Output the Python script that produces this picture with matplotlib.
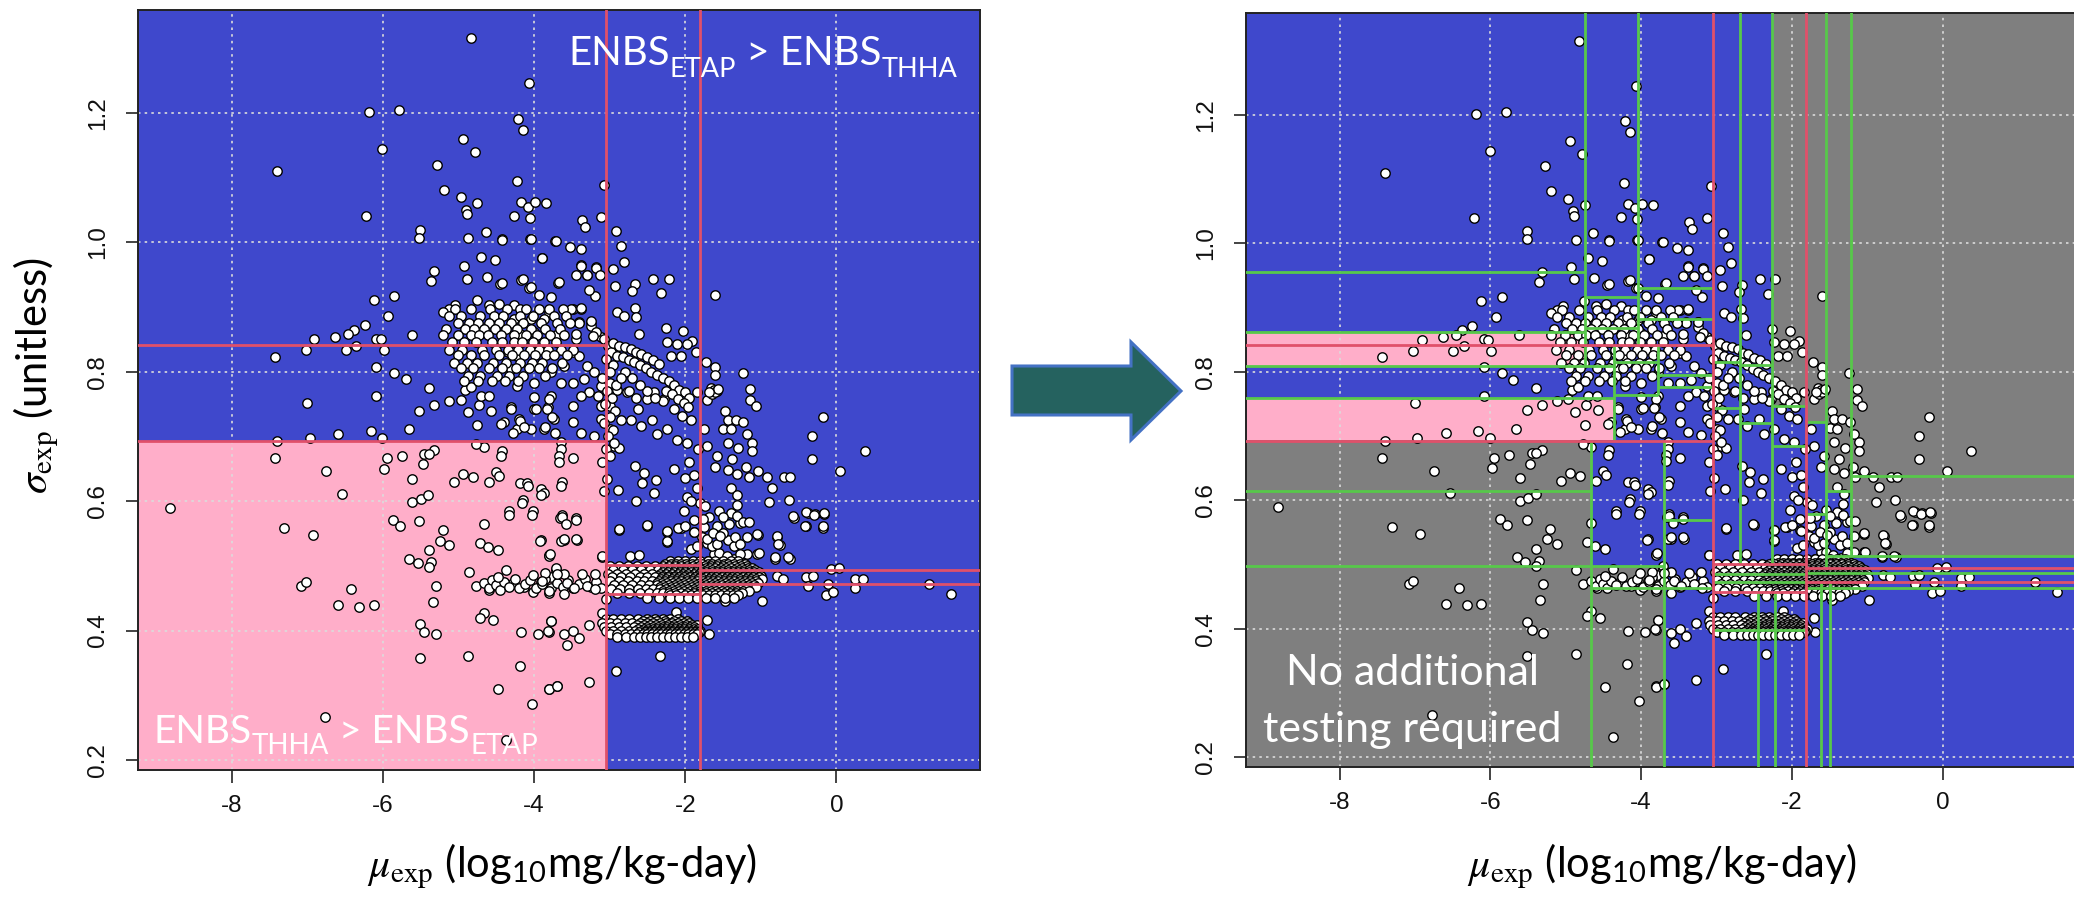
import matplotlib
matplotlib.use('Agg')
import matplotlib.pyplot as plt
from matplotlib.patches import Rectangle, Polygon
import numpy as np

plt.rcParams['mathtext.fontset'] = 'stix'

# ---------------- data ----------------
x_ticks = [-8, -6, -4, -2, 0]
x_tick_labels = ['-8', '-6', '-4', '-2', '0']
y_ticks = [0.2, 0.4, 0.6, 0.8, 1.0, 1.2]
y_tick_labels = ['0.2', '0.4', '0.6', '0.8', '1.0', '1.2']

# scattered chemicals, upper part
upper_pts = [(-4.83, 1.315), (-4.07, 1.246), (-6.19, 1.202), (-5.79, 1.205), (-7.40, 1.11), (-6.01, 1.144),
             (-4.21, 1.19), (-4.15, 1.173), (-4.94, 1.159), (-4.78, 1.139), (-5.28, 1.12), (-5.19, 1.081),
             (-4.97, 1.07), (-4.75, 1.06), (-4.90, 1.05), (-4.89, 1.043), (-4.23, 1.094), (-4.17, 1.062),
             (-4.08, 1.055), (-3.99, 1.062), (-3.84, 1.06), (-4.27, 1.041), (-4.05, 1.038), (-6.22, 1.04),
             (-5.51, 1.019), (-5.52, 1.007), (-4.87, 1.006), (-4.64, 1.016), (-4.43, 1.005), (-4.05, 1.005),
             (-3.72, 1.002), (-4.70, 0.978), (-4.52, 0.973), (-3.90, 0.976), (-5.32, 0.956), (-5.36, 0.94),
             (-4.93, 0.963), (-4.89, 0.944), (-4.62, 0.946), (-4.45, 0.935), (-4.17, 0.942), (-4.07, 0.93),
             (-3.68, 0.937), (-6.12, 0.911), (-5.85, 0.917), (-5.93, 0.886), (-4.76, 0.911), (-4.60, 0.903),
             (-4.46, 0.905), (-4.27, 0.903), (-5.04, 0.903), (-5.12, 0.897), (-5.20, 0.892), (-6.24, 0.872),
             (-6.38, 0.865), (-6.46, 0.858), (-6.63, 0.854), (-6.91, 0.85), (-7.02, 0.833), (-7.43, 0.823),
             (-6.49, 0.833), (-6.35, 0.84), (-6.09, 0.851), (-6.03, 0.85), (-5.99, 0.833), (-5.62, 0.857),
             (-6.09, 0.807), (-5.85, 0.798), (-5.70, 0.788), (-5.39, 0.775)]

# dense upper cluster, rows of (sigma, [mu ...])
upper_rows = [
    (0.897, [-5.05, -4.83, -4.58, -4.36, -4.1, -3.93, -3.8, -3.62]),
    (0.886, [-5.12, -4.96, -4.71, -4.53, -4.41, -4.19, -4.02, -3.74, -3.58]),
    (0.876, [-5.0, -4.86, -4.74, -4.6, -4.47, -4.31, -4.14, -3.91, -3.7, -3.53]),
    (0.866, [-5.16, -4.91, -4.79, -4.66, -4.52, -4.37, -4.23, -4.04, -3.86, -3.66]),
    (0.857, [-5.2, -5.01, -4.84, -4.73, -4.61, -4.44, -4.27, -4.11, -3.96, -3.79, -3.61]),
    (0.846, [-5.08, -4.93, -4.77, -4.56, -4.42, -4.26, -4.16, -4.01, -3.87, -3.71]),
    (0.834, [-5.13, -4.95, -4.69, -4.51, -4.34, -4.21, -4.06, -3.93, -3.81, -3.64, -3.49]),
    (0.826, [-5.0, -4.84, -4.66, -4.46, -4.29, -4.13, -3.99, -3.84, -3.73, -3.56]),
    (0.814, [-5.06, -4.89, -4.76, -4.54, -4.37, -4.19, -4.03, -3.89, -3.63]),
    (0.806, [-4.96, -4.81, -4.59, -4.43, -4.24, -4.07, -3.94, -3.76]),
    (0.794, [-4.87, -4.71, -4.49, -4.33, -4.14, -3.86]),
    (0.786, [-4.93, -4.74, -4.56, -4.39, -4.21]),
]

mid_pts = [(-4.42, 1.004), (-4.04, 1.005), (-3.71, 1.002), (-3.53, 0.993), (-3.38, 0.99), (-3.89, 0.976),
           (-3.38, 0.965), (-3.18, 0.962), (-3.45, 0.949), (-3.30, 0.949), (-3.67, 0.938), (-4.15, 0.943),
           (-4.04, 0.931), (-4.42, 0.937), (-3.93, 0.918), (-3.78, 0.915), (-3.80, 0.892), (-3.49, 0.897),
           (-3.38, 0.897), (-3.41, 0.877), (-3.25, 0.877), (-3.12, 0.854), (-4.18, 0.897), (-4.26, 0.881),
           (-4.04, 0.881), (-3.87, 0.881), (-4.18, 0.858), (-4.00, 0.861), (-3.71, 0.856), (-3.45, 0.851),
           (-3.25, 0.87),
           (-4.35, 0.830), (-4.22, 0.825), (-4.31, 0.804), (-4.04, 0.809), (-3.78, 0.799), (-3.60, 0.809),
           (-3.49, 0.830), (-3.41, 0.825), (-3.30, 0.809), (-3.21, 0.799), (-3.12, 0.778), (-4.22, 0.778),
           (-4.00, 0.783), (-3.65, 0.783), (-3.49, 0.783), (-3.34, 0.788), (-3.27, 0.768), (-3.16, 0.762),
           (-4.31, 0.745), (-4.00, 0.742), (-3.82, 0.745), (-3.78, 0.763), (-3.49, 0.747), (-3.38, 0.763),
           (-4.20, 0.727), (-4.04, 0.711), (-3.74, 0.727), (-3.49, 0.722), (-3.38, 0.706), (-3.21, 0.701),
           (-3.87, 0.711), (-3.12, 0.727), (-4.40, 0.722), (-3.12, 0.747), (-4.22, 0.711),
           (-7.00, 0.752), (-6.09, 0.762), (-7.40, 0.693), (-6.97, 0.697), (-6.59, 0.704), (-6.16, 0.708),
           (-6.01, 0.697), (-5.66, 0.711), (-5.52, 0.74), (-5.32, 0.749), (-5.12, 0.755), (-4.97, 0.757),
           (-4.92, 0.771), (-4.84, 0.776), (-4.88, 0.737), (-4.73, 0.748), (-4.57, 0.74), (-4.75, 0.717),
           (-4.70, 0.763), (-4.59, 0.763), (-4.44, 0.719), (-4.31, 0.742), (-4.19, 0.724), (-4.28, 0.706),
           (-4.13, 0.714), (-4.00, 0.761), (-3.98, 0.743), (-3.80, 0.758), (-3.83, 0.743), (-3.76, 0.73),
           (-3.85, 0.715), (-3.72, 0.705)]

# chemicals with mu above -3.6
right_pts = [(-3.07, 1.089), (-3.12, 1.039), (-3.36, 1.034), (-3.32, 1.023), (-2.92, 1.017), (-2.85, 0.995),
             (-2.81, 0.969), (-2.95, 0.959), (-3.18, 0.961), (-3.13, 0.949), (-3.38, 0.964), (-3.30, 0.949),
             (-3.19, 0.917), (-3.27, 0.927), (-3.38, 0.898), (-3.51, 0.897), (-3.25, 0.878), (-3.40, 0.876),
             (-3.18, 0.861), (-3.22, 0.855), (-3.44, 0.859), (-2.93, 0.933), (-2.66, 0.935), (-2.70, 0.925),
             (-2.42, 0.944), (-2.22, 0.944), (-2.32, 0.922), (-1.60, 0.918), (-2.90, 0.892), (-2.81, 0.886),
             (-2.67, 0.898), (-2.65, 0.884), (-2.26, 0.867), (-2.03, 0.863), (-2.61, 0.858), (-2.24, 0.846),
             (-2.11, 0.843), (-1.91, 0.848), (-1.97, 0.843), (-1.86, 0.831), (-2.19, 0.825), (-2.06, 0.825),
             (-1.72, 0.815), (-1.60, 0.808), (-1.60, 0.795), (-1.24, 0.798), (-1.14, 0.773), (-1.14, 0.756),
             (-1.07, 0.747), (-1.84, 0.768), (-1.71, 0.757), (-1.47, 0.739), (-1.44, 0.726), (-1.33, 0.726),
             (-1.23, 0.722), (-1.50, 0.712), (-1.40, 0.711), (-1.18, 0.703), (-1.11, 0.69), (-1.11, 0.677),
             (-0.18, 0.73), (-0.32, 0.70), (-0.32, 0.665), (0.38, 0.677), (0.05, 0.646), (-1.30, 0.682),
             (-1.44, 0.69), (-1.38, 0.665), (-1.61, 0.652), (-1.44, 0.648), (-1.31, 0.642), (-1.19, 0.652),
             (-1.16, 0.637), (-1.04, 0.646), (-0.92, 0.637), (-0.85, 0.62), (-0.69, 0.637), (-0.61, 0.637),
             (-1.40, 0.62), (-1.31, 0.61), (-1.32, 0.594), (-0.89, 0.598), (-0.63, 0.601), (-0.56, 0.574),
             (-0.40, 0.562), (-0.37, 0.581), (-0.28, 0.58), (-0.16, 0.58), (-0.18, 0.559), (-0.78, 0.545),
             (-0.75, 0.532), (-1.04, 0.548), (-0.81, 0.511), (-0.62, 0.511), (-1.05, 0.519),
             (-2.99, 0.783), (-2.90, 0.771), (-2.77, 0.768), (-2.63, 0.742), (-2.50, 0.758), (-2.41, 0.768),
             (-2.28, 0.758), (-2.15, 0.742), (-2.04, 0.732), (-1.93, 0.726), (-2.99, 0.747), (-2.85, 0.726),
             (-2.72, 0.726), (-2.59, 0.716), (-2.44, 0.726), (-2.37, 0.703), (-2.24, 0.711), (-2.11, 0.695),
             (-1.97, 0.69), (-2.99, 0.711), (-2.94, 0.685), (-2.88, 0.682), (-2.66, 0.654), (-2.55, 0.644),
             (-2.39, 0.633), (-2.15, 0.649), (-2.00, 0.636), (-2.57, 0.628), (-2.41, 0.612), (-2.89, 0.617),
             (-2.65, 0.60), (-2.88, 0.555), (-2.50, 0.562), (-2.24, 0.553), (-2.24, 0.537), (-2.06, 0.558),
             (-1.89, 0.553), (-1.97, 0.607), (-1.80, 0.597), (-1.75, 0.711), (-1.71, 0.685), (-1.58, 0.669),
             (-1.40, 0.581), (-1.27, 0.566), (-1.58, 0.561), (-1.44, 0.54), (-1.36, 0.53), (-1.18, 0.545),
             (-1.71, 0.535), (-1.62, 0.519), (-1.18, 0.519), (-1.75, 0.56), (-1.68, 0.575), (-1.55, 0.585),
             (-1.5, 0.55), (-1.42, 0.565), (-1.65, 0.53), (-1.55, 0.52), (-1.35, 0.51), (-1.48, 0.505),
             (-1.7, 0.508), (-1.78, 0.545), (-1.25, 0.505), (-1.95, 0.66), (-1.88, 0.64), (-1.85, 0.62),
             (-1.92, 0.60), (-2.02, 0.585), (-1.83, 0.68),
             (-1.66, 0.775), (-1.62, 0.772), (-1.58, 0.77), (-1.64, 0.765), (-1.6, 0.768), (-1.56, 0.774),
             (-1.68, 0.768)]

# stripe along mu = -3 and the descending band
stripe_pts = [(-3.08, 0.85), (-3.02, 0.84), (-2.98, 0.83), (-3.05, 0.82), (-2.95, 0.81), (-3.0, 0.80),
              (-3.1, 0.79), (-2.92, 0.78), (-3.03, 0.77), (-2.97, 0.76), (-3.06, 0.75), (-2.93, 0.74),
              (-3.0, 0.73), (-3.08, 0.72), (-2.96, 0.71), (-3.02, 0.70), (-2.94, 0.69), (-3.05, 0.68),
              (-2.99, 0.67), (-3.1, 0.66),
              (-2.95, 0.845), (-2.88, 0.84), (-2.8, 0.838), (-2.72, 0.835), (-2.65, 0.83), (-2.58, 0.828),
              (-2.5, 0.822), (-2.42, 0.818), (-2.35, 0.812), (-2.9, 0.825), (-2.82, 0.822), (-2.75, 0.818),
              (-2.68, 0.815), (-2.6, 0.81), (-2.52, 0.805), (-2.45, 0.80), (-2.38, 0.795), (-2.3, 0.79),
              (-2.22, 0.785), (-2.15, 0.78), (-2.08, 0.772), (-2.0, 0.768), (-1.95, 0.76), (-2.25, 0.77),
              (-2.18, 0.765), (-2.1, 0.758), (-2.02, 0.752), (-1.96, 0.745), (-2.3, 0.755), (-2.4, 0.76),
              (-2.5, 0.77), (-2.6, 0.78), (-2.7, 0.79), (-2.8, 0.80), (-2.85, 0.79), (-2.75, 0.77),
              (-2.65, 0.76)]

# chemicals in the lower left (pink) region
pink_pts = [(-4.42, 0.678), (-4.18, 0.628), (-4.09, 0.628), (-3.91, 0.618), (-3.87, 0.613), (-3.63, 0.63),
            (-3.49, 0.666), (-3.65, 0.691), (-3.65, 0.68), (-3.67, 0.67), (-4.15, 0.602), (-4.33, 0.584),
            (-4.02, 0.584), (-3.63, 0.579), (-3.45, 0.574), (-3.91, 0.54), (-3.60, 0.54), (-3.43, 0.54),
            (-3.80, 0.517), (-3.10, 0.514), (-3.08, 0.615), (-3.04, 0.634),
            (-7.43, 0.666), (-6.75, 0.646), (-6.54, 0.611), (-8.82, 0.590), (-7.31, 0.558), (-6.93, 0.547),
            (-7.08, 0.469), (-7.02, 0.475), (-6.42, 0.464), (-6.59, 0.439), (-6.31, 0.437), (-6.12, 0.439),
            (-5.95, 0.666), (-5.98, 0.650), (-5.75, 0.670), (-5.61, 0.634), (-5.47, 0.657), (-5.45, 0.673),
            (-5.32, 0.679), (-5.39, 0.673), (-5.61, 0.599), (-5.50, 0.604), (-5.40, 0.609), (-5.87, 0.571),
            (-5.78, 0.561), (-5.52, 0.569), (-5.21, 0.556), (-5.25, 0.539), (-5.12, 0.532), (-5.39, 0.524),
            (-5.65, 0.511), (-5.54, 0.504), (-5.36, 0.506), (-5.39, 0.498), (-5.30, 0.469), (-5.34, 0.444),
            (-5.51, 0.410), (-5.45, 0.398), (-5.30, 0.394), (-5.51, 0.358), (-4.87, 0.361), (-4.77, 0.469),
            (-4.86, 0.491), (-4.72, 0.535), (-4.61, 0.529), (-4.48, 0.524), (-4.66, 0.564), (-4.60, 0.630),
            (-4.50, 0.645), (-4.46, 0.639), (-4.44, 0.670), (-4.66, 0.683), (-4.77, 0.688), (-5.06, 0.630),
            (-4.94, 0.642), (-4.81, 0.638), (-4.37, 0.493), (-4.50, 0.473), (-4.59, 0.463), (-4.46, 0.468),
            (-4.28, 0.473), (-4.13, 0.467), (-4.02, 0.460), (-3.91, 0.475), (-3.77, 0.483), (-3.80, 0.458),
            (-3.71, 0.493), (-4.66, 0.427), (-4.72, 0.419), (-4.54, 0.417), (-4.17, 0.397), (-3.95, 0.395),
            (-3.80, 0.398), (-3.77, 0.414), (-4.19, 0.345), (-4.48, 0.309), (-4.03, 0.287), (-3.80, 0.310),
            (-3.70, 0.314), (-6.77, 0.266), (-4.37, 0.231), (-4.33, 0.578), (-4.03, 0.578), (-3.92, 0.538),
            (-3.80, 0.515), (-4.16, 0.597), (-4.08, 0.623), (-3.91, 0.609), (-3.64, 0.624), (-3.67, 0.661),
            (-3.64, 0.539), (-3.66, 0.574),
            (-4.66, 0.474), (-4.6, 0.466), (-4.55, 0.478), (-4.5, 0.47), (-4.45, 0.463), (-4.4, 0.475),
            (-4.33, 0.468), (-4.25, 0.48), (-4.2, 0.466), (-4.12, 0.472), (-4.05, 0.478), (-3.98, 0.465),
            (-3.9, 0.472), (-3.85, 0.48), (-3.78, 0.466), (-3.7, 0.474), (-3.62, 0.468), (-3.55, 0.478),
            (-3.48, 0.465), (-3.4, 0.472), (-3.32, 0.48), (-3.25, 0.468), (-3.18, 0.475), (-3.12, 0.465),
            (-4.48, 0.482), (-4.02, 0.486), (-3.6, 0.488), (-3.2, 0.488)]

low_pts = [(-3.63, 0.575), (-3.58, 0.564), (-3.45, 0.571), (-3.60, 0.542), (-3.45, 0.542), (-3.79, 0.518),
           (-3.10, 0.515), (-3.36, 0.487), (-3.71, 0.497), (-3.85, 0.489), (-3.69, 0.487), (-3.56, 0.474),
           (-3.47, 0.466), (-3.30, 0.469), (-3.19, 0.464), (-3.60, 0.456), (-3.80, 0.461), (-3.89, 0.476),
           (-3.05, 0.448), (-3.10, 0.427), (-3.78, 0.414), (-3.27, 0.409), (-3.82, 0.399), (-3.60, 0.394),
           (-3.49, 0.399), (-3.41, 0.389), (-3.56, 0.378), (-2.34, 0.361), (-2.91, 0.337), (-3.80, 0.309),
           (-3.69, 0.314), (-3.27, 0.320), (-2.12, 0.428), (-1.71, 0.417), (-1.69, 0.395), (-2.88, 0.557),
           (-2.51, 0.563), (-2.24, 0.554), (-2.24, 0.538), (-2.09, 0.559), (-2.00, 0.562), (-1.89, 0.571),
           (-1.88, 0.552), (-1.74, 0.593), (-1.76, 0.572), (-1.93, 0.526), (-1.85, 0.531), (-1.71, 0.541),
           (-1.58, 0.533), (-1.45, 0.515), (-1.27, 0.518), (-1.05, 0.549), (-1.03, 0.520), (-0.81, 0.513),
           (-0.64, 0.513), (-0.79, 0.546), (-0.77, 0.533), (-0.57, 0.577), (-0.40, 0.583), (-0.29, 0.579),
           (-0.17, 0.581), (-0.41, 0.561), (-0.18, 0.561), (-2.73, 0.515), (-2.61, 0.517), (-1.47, 0.445),
           (-0.98, 0.445), (-0.79, 0.484), (-0.70, 0.480), (-0.40, 0.482), (-0.31, 0.484), (-0.37, 0.469),
           (-0.11, 0.472), (-0.07, 0.495), (0.04, 0.496), (0.24, 0.479), (0.24, 0.466), (0.35, 0.480),
           (-0.14, 0.455), (-0.04, 0.459), (1.22, 0.472), (1.52, 0.457), (-1.32, 0.577), (-1.23, 0.567),
           (-1.16, 0.567), (-1.50, 0.575), (-1.63, 0.551), (-1.54, 0.546), (-1.34, 0.544), (-1.27, 0.533)]

# the two crowded bands near sigma 0.48 and 0.40
band_a_rows = [
    (0.508, [-2.2, -2.1, -2.0, -1.9, -1.8, -1.7, -1.6, -1.5, -1.4, -1.3]),
    (0.503, [-2.27, -2.19, -2.12, -2.05, -1.99, -1.91, -1.84, -1.78, -1.7, -1.64, -1.56, -1.49, -1.43, -1.35,
             -1.28, -1.21]),
    (0.500, [-3.0, -2.88, -2.76, -2.64, -2.52, -2.4, -2.3, -2.22, -2.14, -2.06, -1.98, -1.9, -1.82, -1.74,
             -1.66, -1.58, -1.5, -1.42, -1.34, -1.26, -1.18]),
    (0.497, [-2.33, -2.25, -2.17, -2.09, -2.02, -1.95, -1.87, -1.81, -1.73, -1.67, -1.6, -1.53, -1.46, -1.39,
             -1.31, -1.25, -1.17, -1.11]),
    (0.494, [-2.95, -2.82, -2.7, -2.58, -2.46, -2.36, -2.28, -2.2, -2.13, -2.06, -1.99, -1.92, -1.85, -1.78,
             -1.71, -1.64, -1.57, -1.5, -1.43, -1.36, -1.29, -1.22, -1.15, -1.08]),
    (0.491, [-2.3, -2.23, -2.15, -2.07, -2.0, -1.93, -1.86, -1.79, -1.72, -1.65, -1.58, -1.51, -1.44, -1.37,
             -1.3, -1.23, -1.16, -1.09, -1.03]),
    (0.488, [-3.02, -2.9, -2.78, -2.66, -2.54, -2.44, -2.34, -2.26, -2.18, -2.1, -2.03, -1.96, -1.89, -1.82,
             -1.75, -1.68, -1.61, -1.54, -1.47, -1.4, -1.33, -1.26, -1.19, -1.12, -1.04]),
    (0.485, [-2.36, -2.29, -2.21, -2.14, -2.06, -1.99, -1.92, -1.85, -1.78, -1.71, -1.64, -1.57, -1.5, -1.43,
             -1.36, -1.29, -1.22, -1.15, -1.08, -1.0]),
    (0.482, [-2.97, -2.85, -2.73, -2.6, -2.5, -2.4, -2.31, -2.23, -2.15, -2.08, -2.01, -1.94, -1.87, -1.8,
             -1.73, -1.66, -1.59, -1.52, -1.45, -1.38, -1.31, -1.24, -1.17, -1.1, -1.02]),
    (0.479, [-2.32, -2.25, -2.18, -2.11, -2.04, -1.97, -1.9, -1.83, -1.76, -1.69, -1.62, -1.55, -1.48, -1.41,
             -1.34, -1.27, -1.2, -1.13, -1.06, -0.99]),
    (0.476, [-3.0, -2.88, -2.76, -2.64, -2.54, -2.44, -2.35, -2.27, -2.19, -2.12, -2.05, -1.98, -1.91, -1.84,
             -1.77, -1.7, -1.63, -1.56, -1.49, -1.42, -1.35, -1.28, -1.21, -1.14, -1.06]),
    (0.473, [-2.38, -2.31, -2.24, -2.16, -2.09, -2.02, -1.95, -1.88, -1.81, -1.74, -1.67, -1.6, -1.53, -1.46,
             -1.39, -1.32, -1.25, -1.18, -1.11, -1.04]),
    (0.470, [-2.94, -2.82, -2.7, -2.58, -2.48, -2.38, -2.29, -2.21, -2.14, -2.07, -2.0, -1.93, -1.86, -1.79,
             -1.72, -1.65, -1.58, -1.51, -1.44, -1.37, -1.3, -1.23, -1.16, -1.09]),
    (0.467, [-2.34, -2.27, -2.19, -2.12, -2.05, -1.98, -1.91, -1.84, -1.77, -1.7, -1.63, -1.56, -1.49, -1.42,
             -1.35, -1.28, -1.21, -1.14, -1.07]),
    (0.464, [-2.98, -2.86, -2.74, -2.62, -2.52, -2.42, -2.33, -2.25, -2.17, -2.1, -2.03, -1.96, -1.89, -1.82,
             -1.75, -1.68, -1.61, -1.54, -1.47, -1.4, -1.33, -1.26, -1.19]),
    (0.461, [-2.3, -2.22, -2.15, -2.08, -2.01, -1.94, -1.87, -1.8, -1.73, -1.66, -1.59, -1.52, -1.45, -1.38,
             -1.31, -1.24, -1.16]),
    (0.458, [-2.9, -2.75, -2.6, -2.48, -2.38, -2.29, -2.21, -2.13, -2.05, -1.97, -1.89, -1.81, -1.73, -1.65,
             -1.57, -1.49, -1.41, -1.33, -1.25]),
    (0.455, [-2.2, -2.12, -2.0, -1.92, -1.85, -1.77, -1.69, -1.61, -1.53, -1.45, -1.37, -1.3]),
    (0.451, [-2.5, -2.35, -2.2, -2.08, -1.96, -1.84, -1.72, -1.6, -1.48, -1.36]),
]
band_b_rows = [
    (0.418, [-3.05, -2.95, -2.85, -2.75, -2.62, -2.5, -2.4, -2.3, -2.2, -2.1]),
    (0.415, [-2.56, -2.46, -2.37, -2.27, -2.15, -2.05, -1.97]),
    (0.412, [-3.1, -3.0, -2.9, -2.8, -2.7, -2.6, -2.5, -2.42, -2.34, -2.26, -2.18, -2.1, -2.02, -1.95]),
    (0.409, [-2.64, -2.55, -2.47, -2.39, -2.31, -2.23, -2.15, -2.07, -1.99, -1.91, -1.85]),
    (0.406, [-3.08, -2.98, -2.88, -2.78, -2.68, -2.58, -2.5, -2.42, -2.36, -2.3, -2.24, -2.18, -2.12, -2.06,
             -2.0, -1.94, -1.88]),
    (0.403, [-2.62, -2.55, -2.49, -2.43, -2.37, -2.31, -2.25, -2.19, -2.13, -2.07, -2.01, -1.95, -1.89, -1.83]),
    (0.400, [-3.05, -2.95, -2.85, -2.75, -2.66, -2.58, -2.52, -2.46, -2.4, -2.34, -2.28, -2.22, -2.16, -2.1,
             -2.04, -1.98, -1.92, -1.86, -1.8]),
    (0.397, [-2.61, -2.53, -2.47, -2.41, -2.35, -2.29, -2.23, -2.17, -2.11, -2.05, -1.99, -1.93, -1.87, -1.82]),
    (0.395, [-3.0, -2.9, -2.8, -2.72, -2.64, -2.56, -2.5, -2.44, -2.38, -2.32, -2.26, -2.2, -2.14, -2.08,
             -2.02, -1.96, -1.9, -1.84]),
    (0.390, [-2.9, -2.78, -2.68, -2.6, -2.52, -2.45, -2.38, -2.3, -2.22, -2.14, -2.06, -1.98, -1.9]),
]

# decision boundaries from the full analysis (red)
red_h = [(0.842, -10, -3.05), (0.693, -10, -3.05), (0.501, -3.05, -1.81), (0.457, -3.05, -1.81),
         (0.494, -1.81, 3), (0.472, -1.81, 3)]
red_v = [-3.05, -1.81]
pink_region = (-10, -3.05, 0.0, 0.693)

# meta-model partition (right panel): cells (x0, x1, y0, y1)
right_pink = [(-10, -4.74, 0.809, 0.862), (-10, -4.36, 0.694, 0.759)]
right_gray = [(-10, -4.67, 0.0, 0.694), (-4.67, -3.70, 0.0, 0.497), (-2.27, -1.81, 0.747, 2),
              (-1.81, -1.545, 0.722, 2), (-1.545, -1.22, 0.615, 2), (-1.22, 3, 0.513, 2)]
green_v = [(-4.74, 0.809, 2), (-4.04, 0.842, 2), (-4.36, 0.694, 0.842), (-3.78, 0.764, 0.842),
           (-2.69, 0.501, 2), (-2.27, 0.501, 2), (-1.545, 0.494, 2), (-1.22, 0.513, 2),
           (-4.67, 0.0, 0.694), (-3.70, 0.0, 0.694), (-2.45, 0.0, 0.457), (-2.23, 0.0, 0.457),
           (-1.62, 0.0, 0.472), (-1.50, 0.0, 0.472)]
green_h = [(0.956, -10, -4.74), (0.862, -10, -4.74), (0.809, -10, -4.36), (0.759, -10, -4.36),
           (0.916, -4.74, -4.04), (0.868, -4.74, -4.04), (0.930, -4.04, -3.05), (0.882, -4.04, -3.05),
           (0.816, -4.36, -3.78), (0.764, -4.36, -3.78), (0.795, -3.78, -3.05), (0.777, -3.78, -3.05),
           (0.816, -3.05, -2.69), (0.743, -3.05, -2.69), (0.810, -2.69, -2.27), (0.720, -2.69, -2.27),
           (0.747, -2.27, -1.81), (0.684, -2.27, -1.81), (0.722, -1.81, -1.545), (0.578, -1.81, -1.545),
           (0.615, -1.545, -1.22), (0.638, -1.22, 3), (0.513, -1.545, 3), (0.615, -10, -4.67),
           (0.497, -10, -3.70), (0.463, -4.67, -3.05), (0.569, -3.70, -3.05), (0.486, -1.81, 3),
           (0.464, -1.81, 3), (0.473, -3.05, -1.81), (0.485, -3.05, -1.81), (0.398, -3.05, -1.81)]

# ---------------- assemble points ----------------
pts = upper_pts + mid_pts + right_pts + stripe_pts + pink_pts + low_pts
for y, row in upper_rows + band_a_rows + band_b_rows:
    pts += [(x, y) for x in row]
pts = np.array(pts)
mu, sigma = pts[:, 0], pts[:, 1]

BLUE = '#3F48CC'
PINK = '#FFAEC9'
GRAY = '#7F7F7F'
RED = '#E0506A'
GREEN = '#57C84A'
LABEL_FONT = 'Lato'

W, H = 2074, 908
fig = plt.figure(figsize=(W / 100, H / 100), dpi=100)
ax1 = fig.add_axes([138 / W, (H - 770) / H, 842 / W, 760 / H])
ax2 = fig.add_axes([1246 / W, (H - 767) / H, 840 / W, 754 / H])


def style(ax):
    ax.set_facecolor(BLUE)
    ax.set_xlim(-9.24, 1.90)
    ax.set_ylim(0.1845, 1.359)
    ax.set_xticks(x_ticks)
    ax.set_xticklabels(x_tick_labels, family='Liberation Sans')
    ax.set_yticks(y_ticks)
    ax.set_yticklabels(y_tick_labels, family='Liberation Sans', rotation=90, va='center')
    ax.tick_params(length=9, width=1.1, labelsize=17.5, colors='#111111')
    ax.tick_params(axis='x', pad=9)
    ax.tick_params(axis='y', pad=12)
    for s in ax.spines.values():
        s.set_linewidth(1.4)
        s.set_color('#222222')
    ax.set_axisbelow(True)
    ax.grid(True, color='#dcdcdc', linestyle=(0, (1.5, 2.5)), linewidth=1.2)


def draw_common(ax):
    ax.scatter(mu, sigma, s=46, facecolor='white', edgecolor='black', linewidth=1.0, zorder=3)
    ax.hlines([r[0] for r in red_h], [r[1] for r in red_h], [r[2] for r in red_h],
              color=RED, linewidth=2.0, zorder=5)
    ax.vlines(red_v, 0, 2, color=RED, linewidth=2.0, zorder=5)


def sub_label(ax, x, y, parts, main_size, sub_size, drop):
    t0 = ax.text(x, y, parts[0], transform=ax.transAxes, va='baseline', color='white',
                 family=LABEL_FONT, size=main_size, zorder=6)
    t1 = ax.annotate(parts[1], xy=(1, 0), xycoords=t0, xytext=(0, -drop), textcoords='offset points',
                     va='bottom', color='white', family=LABEL_FONT, size=sub_size, zorder=6)
    t2 = ax.annotate(parts[2], xy=(1, 0), xycoords=(t1, t0), va='bottom', color='white',
                     family=LABEL_FONT, size=main_size, zorder=6)
    ax.annotate(parts[3], xy=(1, 0), xycoords=(t2, t0), xytext=(0, -drop), textcoords='offset points',
                va='bottom', color='white', family=LABEL_FONT, size=sub_size, zorder=6)


# left panel
style(ax1)
x0, x1, y0, y1 = pink_region
ax1.add_patch(Rectangle((x0, y0), x1 - x0, y1 - y0, facecolor=PINK, edgecolor='none', zorder=0.2))
draw_common(ax1)
sub_label(ax1, 0.511, 0.928, ['ENBS', 'ETAP', ' > ENBS', 'THHA'], 29, 19.5, 7.5)
sub_label(ax1, 0.019, 0.0355, ['ENBS', 'THHA', ' > ENBS', 'ETAP'], 28, 20, 6.5)

# right panel
style(ax2)
for x0, x1, y0, y1 in right_pink:
    ax2.add_patch(Rectangle((x0, y0), x1 - x0, y1 - y0, facecolor=PINK, edgecolor='none', zorder=0.2))
for x0, x1, y0, y1 in right_gray:
    ax2.add_patch(Rectangle((x0, y0), x1 - x0, y1 - y0, facecolor=GRAY, edgecolor='none', zorder=0.2))
draw_common(ax2)
ax2.vlines([g[0] for g in green_v], [g[1] for g in green_v], [g[2] for g in green_v],
           color=GREEN, linewidth=2.0, zorder=4)
ax2.hlines([g[0] for g in green_h], [g[1] for g in green_h], [g[2] for g in green_h],
           color=GREEN, linewidth=2.0, zorder=4)
ax2.text(0.198, 0.109, 'No additional', transform=ax2.transAxes, ha='center', va='baseline',
         color='white', family=LABEL_FONT, size=31, zorder=6)
ax2.text(0.198, 0.033, 'testing required', transform=ax2.transAxes, ha='center', va='baseline',
         color='white', family=LABEL_FONT, size=31, zorder=6)

# axis titles
fig.text(36 / W, 1 - 376 / H, r'$\sigma_{\mathrm{exp}}$ (unitless)', rotation=90, ha='center', va='center',
         family=LABEL_FONT, size=30)
xlab = r'$\mu_{\mathrm{exp}}$ (log$_{\mathregular{10}}$mg/kg-day)'
fig.text(562 / W, 1 - 866 / H, xlab, ha='center', va='center', family=LABEL_FONT, size=30)
fig.text(1662 / W, 1 - 866 / H, xlab, ha='center', va='center', family=LABEL_FONT, size=30)

# arrow between the panels
arrow_px = [(1012, 366), (1131, 366), (1131, 342), (1181, 391), (1131, 440), (1131, 415), (1012, 415)]
arrow = Polygon([(px / W, 1 - py / H) for px, py in arrow_px], closed=True, transform=fig.transFigure,
                facecolor='#25625F', edgecolor='#4472C4', linewidth=2.2)
fig.add_artist(arrow)

fig.savefig('out.png', dpi=100)
